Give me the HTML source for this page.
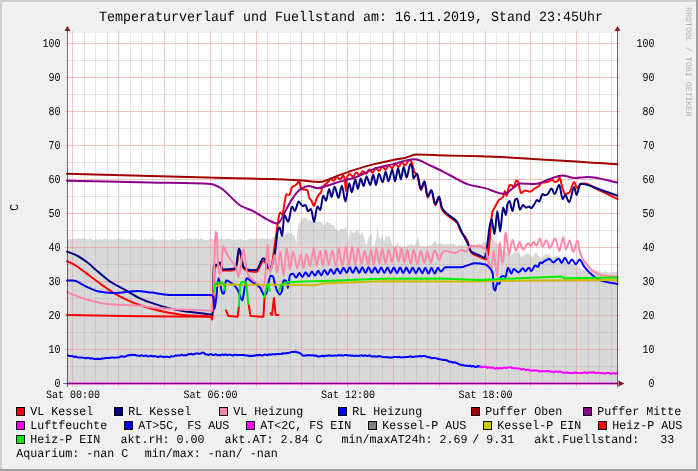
<!DOCTYPE html><html><head><meta charset="utf-8"><style>html,body{margin:0;padding:0;background:#F0F0F0;width:698px;height:471px;overflow:hidden}svg{display:block;will-change:transform}text{font-family:"Liberation Mono",monospace;fill:#000;text-rendering:geometricPrecision}</style></head><body>
<svg width="698" height="471" viewBox="0 0 698 471">
<rect x="0" y="0" width="698" height="471" fill="#F0F0F0"/>
<rect x="0" y="0" width="698" height="2" fill="#CFCFCF"/><rect x="0" y="0" width="2" height="471" fill="#CFCFCF"/>
<rect x="696" y="0" width="2" height="471" fill="#9E9E9E"/><rect x="0" y="469" width="698" height="2" fill="#9E9E9E"/>
<rect x="67" y="33" width="550" height="350" fill="#FFFFFF"/>
<polygon points="67,383 67.0,239.5 68.5,239.0 70.0,238.7 71.5,239.6 73.0,238.5 74.5,239.4 76.0,239.1 77.5,238.5 79.0,239.3 80.5,238.5 82.0,239.2 83.5,238.5 85.0,238.6 86.5,239.2 88.0,239.9 89.5,238.6 91.0,238.8 92.5,239.5 94.0,240.1 95.5,239.4 97.0,239.1 98.5,240.2 100.0,238.5 101.5,239.9 103.0,238.9 104.5,238.7 106.0,238.6 107.5,239.0 109.0,239.9 110.5,238.7 112.0,239.4 113.5,239.6 115.0,239.1 116.5,239.4 118.0,238.5 119.5,238.5 121.0,238.8 122.5,239.6 124.0,239.2 125.5,239.0 127.0,239.5 128.5,239.2 130.0,238.9 131.5,239.8 133.0,239.7 134.5,238.8 136.0,239.4 137.5,239.3 139.0,240.0 140.5,239.7 142.0,238.9 143.5,240.2 145.0,238.6 146.5,239.2 148.0,239.8 149.5,238.7 151.0,239.3 152.5,238.5 154.0,239.6 155.5,239.8 157.0,239.4 158.5,240.0 160.0,239.0 161.5,239.7 163.0,239.5 164.5,239.4 166.0,239.2 167.5,239.9 169.0,240.1 170.5,239.3 172.0,239.6 173.5,238.5 175.0,239.7 176.5,239.6 178.0,240.2 179.5,239.9 181.0,238.9 182.5,239.1 184.0,239.6 185.5,238.4 187.0,239.2 188.5,238.7 190.0,238.6 191.5,238.5 193.0,239.8 194.5,238.6 196.0,238.8 197.5,239.1 199.0,240.0 200.5,238.5 202.0,239.2 203.5,239.4 205.0,240.0 206.5,239.9 208.0,240.0 209.5,238.9 211.0,239.1 212.5,239.0 214.0,240.0 215.5,240.1 217.0,238.7 218.5,238.7 220.0,238.8 221.5,238.8 223.0,239.3 224.5,239.5 226.0,238.9 227.5,238.4 229.0,239.2 230.5,239.1 232.0,239.4 233.5,240.1 235.0,239.6 236.5,239.3 238.0,239.5 239.5,239.6 241.0,238.5 242.5,240.0 244.0,239.8 245.5,240.0 247.0,239.8 248.5,239.1 250.0,239.1 251.5,238.6 253.0,239.5 254.5,238.5 256.0,238.5 257.5,238.8 259.0,238.7 260.5,239.0 262.0,238.5 263.5,238.4 265.0,238.7 266.5,238.6 268.0,239.1 269.5,238.4 271.0,240.0 272.0,236.5 274.0,237.5 276.0,238.0 278.0,236.3 280.0,236.5 281.7,235.0 283.3,234.4 285.0,234.0 286.8,232.7 288.6,232.2 290.0,233.2 291.5,232.8 293.1,235.2 294.6,234.9 296.3,243.5 298.6,223.5 300.1,222.5 301.5,218.9 303.5,218.0 305.5,217.2 306.9,218.9 308.3,220.6 309.8,220.1 311.4,220.7 312.9,222.3 314.3,221.6 315.8,221.1 317.2,222.3 318.7,221.2 320.2,221.7 321.7,222.6 323.2,225.2 324.9,224.6 326.7,221.7 328.2,222.7 329.8,222.7 331.3,224.6 332.7,225.0 334.1,225.2 335.3,229.2 336.7,229.1 338.1,231.5 340.4,229.2 341.9,228.7 343.5,229.3 345.0,227.5 346.5,228.0 347.3,240.1 349.0,236.1 350.7,230.3 352.4,232.3 354.2,233.2 355.9,230.6 357.6,229.2 359.9,236.1 362.2,231.5 364.2,238.3 366.2,245.8 368.1,239.5 370.0,234.9 371.7,233.9 372.3,247.1 374.6,245.4 376.3,237.9 377.4,227.0 379.2,237.9 381.0,239.5 382.0,235.6 384.0,242.0 386.0,235.0 387.8,238.0 389.5,235.0 391.2,242.5 392.9,245.9 394.4,246.6 395.8,245.9 397.5,241.4 399.2,245.9 401.0,245.4 403.2,247.0 404.6,246.5 406.1,246.6 407.6,244.9 409.0,244.8 411.3,244.2 412.7,244.4 414.1,246.0 415.8,243.7 418.1,236.2 419.9,245.9 421.3,246.5 422.7,245.4 424.2,246.7 425.8,246.3 427.3,245.4 428.8,245.8 430.4,245.4 431.9,244.2 433.6,242.8 435.3,240.2 437.0,244.8 439.0,243.5 441.0,243.7 442.8,244.3 444.5,244.8 446.3,244.5 448.2,243.7 450.0,245.0 451.4,243.7 452.9,244.3 454.3,244.2 455.8,245.3 457.2,245.9 458.6,244.5 460.1,245.7 461.5,244.5 462.9,245.8 464.4,245.8 465.8,244.3 467.2,244.0 468.7,244.1 470.1,244.1 471.6,244.2 473.0,245.0 474.4,245.0 475.9,245.3 477.3,244.8 478.7,243.5 480.1,243.6 481.5,243.7 483.0,241.5 484.4,242.2 486.2,242.0 488.0,241.0 489.6,241.0 491.3,238.8 493.6,239.4 495.8,242.0 497.9,244.2 500.0,245.0 502.0,248.2 504.0,250.0 505.7,251.9 507.3,253.2 509.0,256.0 511.0,255.3 513.0,253.0 514.8,252.0 516.6,252.7 518.4,251.4 520.1,255.5 521.9,257.2 523.4,255.8 524.8,254.6 526.2,254.8 527.7,252.5 529.3,254.9 530.8,255.2 532.4,257.8 534.1,254.2 535.9,252.5 537.6,253.9 539.4,257.2 541.0,257.7 542.5,256.9 544.1,255.5 545.6,253.8 547.2,254.7 548.7,253.1 551.0,257.2 552.6,258.0 554.1,256.8 555.7,256.0 557.3,256.3 558.8,257.5 560.4,258.0 562.2,258.9 564.0,260.5 565.8,263.6 567.5,264.8 569.2,264.0 570.9,263.7 572.6,263.6 574.3,265.4 576.0,264.8 577.7,266.6 579.4,266.3 580.8,268.8 582.2,269.7 584.2,269.6 586.3,271.1 587.8,270.5 589.3,270.6 590.9,270.4 592.4,271.3 593.9,270.5 595.5,270.9 597.0,270.1 598.5,271.1 601.2,271.7 602.7,272.8 604.2,271.3 605.7,271.6 607.2,271.9 608.7,272.8 610.1,271.5 611.6,272.8 613.1,271.7 614.6,271.8 616.1,271.8 617.6,271.7 617,383" fill="#D8D8D8"/>
<line x1="72.5" y1="31" x2="72.5" y2="387" stroke="#E89A9A" stroke-opacity="0.58" stroke-width="1"/><line x1="84.5" y1="33" x2="84.5" y2="385" stroke="#9A9A9A" stroke-opacity="0.25" stroke-width="1"/><line x1="95.5" y1="33" x2="95.5" y2="385" stroke="#9A9A9A" stroke-opacity="0.25" stroke-width="1"/><line x1="107.5" y1="33" x2="107.5" y2="385" stroke="#9A9A9A" stroke-opacity="0.25" stroke-width="1"/><line x1="118.5" y1="31" x2="118.5" y2="387" stroke="#E89A9A" stroke-opacity="0.58" stroke-width="1"/><line x1="130.5" y1="33" x2="130.5" y2="385" stroke="#9A9A9A" stroke-opacity="0.25" stroke-width="1"/><line x1="141.5" y1="33" x2="141.5" y2="385" stroke="#9A9A9A" stroke-opacity="0.25" stroke-width="1"/><line x1="152.5" y1="33" x2="152.5" y2="385" stroke="#9A9A9A" stroke-opacity="0.25" stroke-width="1"/><line x1="164.5" y1="31" x2="164.5" y2="387" stroke="#E89A9A" stroke-opacity="0.58" stroke-width="1"/><line x1="175.5" y1="33" x2="175.5" y2="385" stroke="#9A9A9A" stroke-opacity="0.25" stroke-width="1"/><line x1="187.5" y1="33" x2="187.5" y2="385" stroke="#9A9A9A" stroke-opacity="0.25" stroke-width="1"/><line x1="198.5" y1="33" x2="198.5" y2="385" stroke="#9A9A9A" stroke-opacity="0.25" stroke-width="1"/><line x1="210.5" y1="31" x2="210.5" y2="387" stroke="#E89A9A" stroke-opacity="0.58" stroke-width="1"/><line x1="221.5" y1="33" x2="221.5" y2="385" stroke="#9A9A9A" stroke-opacity="0.25" stroke-width="1"/><line x1="233.5" y1="33" x2="233.5" y2="385" stroke="#9A9A9A" stroke-opacity="0.25" stroke-width="1"/><line x1="244.5" y1="33" x2="244.5" y2="385" stroke="#9A9A9A" stroke-opacity="0.25" stroke-width="1"/><line x1="256.5" y1="31" x2="256.5" y2="387" stroke="#E89A9A" stroke-opacity="0.58" stroke-width="1"/><line x1="267.5" y1="33" x2="267.5" y2="385" stroke="#9A9A9A" stroke-opacity="0.25" stroke-width="1"/><line x1="278.5" y1="33" x2="278.5" y2="385" stroke="#9A9A9A" stroke-opacity="0.25" stroke-width="1"/><line x1="290.5" y1="33" x2="290.5" y2="385" stroke="#9A9A9A" stroke-opacity="0.25" stroke-width="1"/><line x1="301.5" y1="31" x2="301.5" y2="387" stroke="#E89A9A" stroke-opacity="0.58" stroke-width="1"/><line x1="313.5" y1="33" x2="313.5" y2="385" stroke="#9A9A9A" stroke-opacity="0.25" stroke-width="1"/><line x1="324.5" y1="33" x2="324.5" y2="385" stroke="#9A9A9A" stroke-opacity="0.25" stroke-width="1"/><line x1="336.5" y1="33" x2="336.5" y2="385" stroke="#9A9A9A" stroke-opacity="0.25" stroke-width="1"/><line x1="347.5" y1="31" x2="347.5" y2="387" stroke="#E89A9A" stroke-opacity="0.58" stroke-width="1"/><line x1="359.5" y1="33" x2="359.5" y2="385" stroke="#9A9A9A" stroke-opacity="0.25" stroke-width="1"/><line x1="370.5" y1="33" x2="370.5" y2="385" stroke="#9A9A9A" stroke-opacity="0.25" stroke-width="1"/><line x1="382.5" y1="33" x2="382.5" y2="385" stroke="#9A9A9A" stroke-opacity="0.25" stroke-width="1"/><line x1="393.5" y1="31" x2="393.5" y2="387" stroke="#E89A9A" stroke-opacity="0.58" stroke-width="1"/><line x1="404.5" y1="33" x2="404.5" y2="385" stroke="#9A9A9A" stroke-opacity="0.25" stroke-width="1"/><line x1="416.5" y1="33" x2="416.5" y2="385" stroke="#9A9A9A" stroke-opacity="0.25" stroke-width="1"/><line x1="427.5" y1="33" x2="427.5" y2="385" stroke="#9A9A9A" stroke-opacity="0.25" stroke-width="1"/><line x1="439.5" y1="31" x2="439.5" y2="387" stroke="#E89A9A" stroke-opacity="0.58" stroke-width="1"/><line x1="450.5" y1="33" x2="450.5" y2="385" stroke="#9A9A9A" stroke-opacity="0.25" stroke-width="1"/><line x1="462.5" y1="33" x2="462.5" y2="385" stroke="#9A9A9A" stroke-opacity="0.25" stroke-width="1"/><line x1="473.5" y1="33" x2="473.5" y2="385" stroke="#9A9A9A" stroke-opacity="0.25" stroke-width="1"/><line x1="485.5" y1="31" x2="485.5" y2="387" stroke="#E89A9A" stroke-opacity="0.58" stroke-width="1"/><line x1="496.5" y1="33" x2="496.5" y2="385" stroke="#9A9A9A" stroke-opacity="0.25" stroke-width="1"/><line x1="508.5" y1="33" x2="508.5" y2="385" stroke="#9A9A9A" stroke-opacity="0.25" stroke-width="1"/><line x1="519.5" y1="33" x2="519.5" y2="385" stroke="#9A9A9A" stroke-opacity="0.25" stroke-width="1"/><line x1="530.5" y1="31" x2="530.5" y2="387" stroke="#E89A9A" stroke-opacity="0.58" stroke-width="1"/><line x1="542.5" y1="33" x2="542.5" y2="385" stroke="#9A9A9A" stroke-opacity="0.25" stroke-width="1"/><line x1="553.5" y1="33" x2="553.5" y2="385" stroke="#9A9A9A" stroke-opacity="0.25" stroke-width="1"/><line x1="565.5" y1="33" x2="565.5" y2="385" stroke="#9A9A9A" stroke-opacity="0.25" stroke-width="1"/><line x1="576.5" y1="31" x2="576.5" y2="387" stroke="#E89A9A" stroke-opacity="0.58" stroke-width="1"/><line x1="588.5" y1="33" x2="588.5" y2="385" stroke="#9A9A9A" stroke-opacity="0.25" stroke-width="1"/><line x1="599.5" y1="33" x2="599.5" y2="385" stroke="#9A9A9A" stroke-opacity="0.25" stroke-width="1"/><line x1="611.5" y1="33" x2="611.5" y2="385" stroke="#9A9A9A" stroke-opacity="0.25" stroke-width="1"/><line x1="65" y1="383.5" x2="620" y2="383.5" stroke="#E89A9A" stroke-opacity="0.58" stroke-width="1"/><line x1="65.5" y1="366.5" x2="619" y2="366.5" stroke="#9A9A9A" stroke-opacity="0.25" stroke-width="1"/><line x1="65" y1="349.5" x2="620" y2="349.5" stroke="#E89A9A" stroke-opacity="0.58" stroke-width="1"/><line x1="65.5" y1="332.5" x2="619" y2="332.5" stroke="#9A9A9A" stroke-opacity="0.25" stroke-width="1"/><line x1="65" y1="315.5" x2="620" y2="315.5" stroke="#E89A9A" stroke-opacity="0.58" stroke-width="1"/><line x1="65.5" y1="298.5" x2="619" y2="298.5" stroke="#9A9A9A" stroke-opacity="0.25" stroke-width="1"/><line x1="65" y1="281.5" x2="620" y2="281.5" stroke="#E89A9A" stroke-opacity="0.58" stroke-width="1"/><line x1="65.5" y1="264.5" x2="619" y2="264.5" stroke="#9A9A9A" stroke-opacity="0.25" stroke-width="1"/><line x1="65" y1="247.5" x2="620" y2="247.5" stroke="#E89A9A" stroke-opacity="0.58" stroke-width="1"/><line x1="65.5" y1="230.5" x2="619" y2="230.5" stroke="#9A9A9A" stroke-opacity="0.25" stroke-width="1"/><line x1="65" y1="213.5" x2="620" y2="213.5" stroke="#E89A9A" stroke-opacity="0.58" stroke-width="1"/><line x1="65.5" y1="196.5" x2="619" y2="196.5" stroke="#9A9A9A" stroke-opacity="0.25" stroke-width="1"/><line x1="65" y1="179.5" x2="620" y2="179.5" stroke="#E89A9A" stroke-opacity="0.58" stroke-width="1"/><line x1="65.5" y1="162.5" x2="619" y2="162.5" stroke="#9A9A9A" stroke-opacity="0.25" stroke-width="1"/><line x1="65" y1="145.5" x2="620" y2="145.5" stroke="#E89A9A" stroke-opacity="0.58" stroke-width="1"/><line x1="65.5" y1="128.5" x2="619" y2="128.5" stroke="#9A9A9A" stroke-opacity="0.25" stroke-width="1"/><line x1="65" y1="111.5" x2="620" y2="111.5" stroke="#E89A9A" stroke-opacity="0.58" stroke-width="1"/><line x1="65.5" y1="94.5" x2="619" y2="94.5" stroke="#9A9A9A" stroke-opacity="0.25" stroke-width="1"/><line x1="65" y1="77.5" x2="620" y2="77.5" stroke="#E89A9A" stroke-opacity="0.58" stroke-width="1"/><line x1="65.5" y1="60.5" x2="619" y2="60.5" stroke="#9A9A9A" stroke-opacity="0.25" stroke-width="1"/><line x1="65" y1="43.5" x2="620" y2="43.5" stroke="#E89A9A" stroke-opacity="0.58" stroke-width="1"/>
<path d="M67.10,261.30 C69.03,262.17 70.97,262.87 72.90,263.90 C77.20,266.18 81.50,269.80 85.80,272.90 C90.10,276.00 94.40,279.39 98.70,282.50 C103.00,285.61 107.30,288.96 111.60,291.60 C116.33,294.51 121.07,297.07 125.80,299.30 C130.53,301.53 135.27,303.55 140.00,305.20 C143.83,306.54 147.67,307.68 151.50,308.70 C157.23,310.23 162.97,311.65 168.70,312.70 C174.40,313.75 180.10,314.90 185.80,315.30 C194.23,315.89 202.67,315.45 211.10,316.40 C211.63,316.46 212.17,317.80 212.70,317.80 C213.40,317.80 214.10,268.74 214.80,267.50 C215.53,266.21 216.27,266.00 217.00,265.50 C218.07,264.77 219.13,263.80 220.20,263.80 C220.97,263.80 221.73,270.60 222.50,270.60 C225.60,270.60 228.70,270.58 231.80,270.50 C232.60,270.48 233.40,270.20 234.20,269.80 C234.97,269.42 235.73,267.98 236.50,266.00 C237.30,263.93 238.10,251.50 238.90,251.50 C239.43,251.50 239.97,252.80 240.50,254.00 C241.50,256.25 242.50,267.58 243.50,268.50 C245.47,270.31 247.43,270.91 249.40,271.20 C251.73,271.54 254.07,271.80 256.40,271.80 C258.73,271.80 261.07,261.00 263.40,261.00 C263.93,261.00 264.47,261.51 265.00,262.00 C266.03,262.94 267.07,268.50 268.10,268.50 C269.27,268.50 270.43,268.26 271.60,267.50 C271.97,267.26 272.33,262.55 272.70,260.00 C273.93,251.42 275.17,241.45 276.40,233.50 C277.60,225.77 278.80,212.40 280.00,212.40 C280.77,212.40 281.53,214.70 282.30,214.70 C283.10,214.70 283.90,205.77 284.70,201.90 C285.27,199.16 285.83,194.30 286.40,194.30 C287.37,194.30 288.33,194.90 289.30,194.90 C290.30,194.90 291.30,187.42 292.30,186.70 C293.27,186.01 294.23,186.08 295.20,185.50 C295.97,185.04 296.73,184.08 297.50,183.20 C298.10,182.51 298.70,180.80 299.30,180.80 C299.87,180.80 300.43,188.79 301.00,189.00 C302.17,189.43 303.33,189.38 304.50,189.60 C305.50,189.78 306.50,189.78 307.50,190.20 C308.07,190.44 308.63,196.65 309.20,197.80 C309.97,199.35 310.73,199.47 311.50,200.70 C312.30,201.98 313.10,206.00 313.90,206.00 C314.67,206.00 315.43,201.25 316.20,199.50 C317.00,197.67 317.80,195.98 318.60,194.90 C319.37,193.87 320.13,193.76 320.90,192.50 C321.47,191.57 322.03,187.48 322.60,186.70 C323.60,185.33 324.60,185.20 325.60,184.30 C326.73,183.28 327.87,182.34 329.00,180.80 C329.43,180.21 329.87,178.50 330.30,178.50 C331.38,178.50 332.47,180.81 333.55,180.81 C334.63,180.81 335.72,177.02 336.80,177.02 C337.88,177.02 338.97,179.42 340.05,179.42 C341.13,179.42 342.22,175.53 343.30,175.53 C343.83,175.53 344.37,177.31 344.90,179.80 C345.20,181.20 345.50,191.00 345.80,191.00 C346.23,191.00 346.67,178.21 347.10,177.20 C348.00,175.11 348.90,174.05 349.80,174.05 C350.88,174.05 351.97,176.65 353.05,176.65 C354.13,176.65 355.22,172.56 356.30,172.56 C357.38,172.56 358.47,175.26 359.55,175.26 C360.63,175.26 361.72,171.08 362.80,171.08 C363.88,171.08 364.97,173.87 366.05,173.87 C367.13,173.87 368.22,169.59 369.30,169.59 C370.38,169.59 371.47,172.49 372.55,172.49 C373.63,172.49 374.72,168.11 375.80,168.11 C376.88,168.11 377.97,171.10 379.05,171.10 C380.13,171.10 381.22,166.63 382.30,166.63 C383.38,166.63 384.47,169.72 385.55,169.72 C386.63,169.72 387.72,165.14 388.80,165.14 C389.88,165.14 390.97,168.33 392.05,168.33 C393.13,168.33 394.22,163.66 395.30,163.66 C396.38,163.66 397.47,166.94 398.55,166.94 C399.63,166.94 400.72,162.17 401.80,162.17 C402.88,162.17 403.97,165.56 405.05,165.56 C406.13,165.56 407.22,161.03 408.30,160.69 C409.00,160.47 409.70,160.30 410.40,160.30 C410.93,160.30 411.47,161.76 412.00,163.00 C412.73,164.70 413.47,170.59 414.20,171.80 C415.17,173.39 416.13,173.19 417.10,174.70 C418.37,176.68 419.63,190.00 420.90,190.00 C422.10,190.00 423.30,182.30 424.50,182.30 C425.53,182.30 426.57,197.60 427.60,197.60 C428.87,197.60 430.13,190.90 431.40,190.90 C432.70,190.90 434.00,205.20 435.30,205.20 C436.57,205.20 437.83,197.60 439.10,197.60 C440.07,197.60 441.03,207.75 442.00,209.50 C443.87,212.88 445.73,213.79 447.60,215.50 C450.80,218.43 454.00,219.02 457.20,223.00 C458.47,224.58 459.73,229.27 461.00,231.50 C463.13,235.26 465.27,236.02 467.40,240.50 C468.33,242.46 469.27,247.95 470.20,250.00 C470.90,251.54 471.60,252.95 472.30,253.50 C474.53,255.25 476.77,255.58 479.00,256.50 C481.37,257.47 483.73,259.20 486.10,259.20 C486.67,259.20 487.23,257.20 487.80,255.30 C489.40,249.94 491.00,215.76 492.60,211.30 C493.40,209.07 494.20,208.40 495.00,207.00 C496.40,204.54 497.80,201.23 499.20,199.80 C500.47,198.50 501.73,198.59 503.00,197.00 C503.67,196.16 504.33,191.10 505.00,191.10 C505.50,191.10 506.00,196.10 506.50,196.10 C507.50,196.10 508.50,185.00 509.50,185.00 C510.33,185.00 511.17,185.19 512.00,185.50 C512.50,185.69 513.00,187.60 513.50,187.60 C514.50,187.60 515.50,180.50 516.50,180.50 C517.00,180.50 517.50,180.97 518.00,181.50 C519.00,182.55 520.00,193.10 521.00,193.10 C522.37,193.10 523.73,190.60 525.10,190.60 C526.77,190.60 528.43,191.60 530.10,191.60 C531.77,191.60 533.43,189.09 535.10,188.10 C536.43,187.30 537.77,187.10 539.10,186.00 C539.77,185.45 540.43,183.23 541.10,183.00 C543.10,182.31 545.10,182.48 547.10,182.00 C548.77,181.60 550.43,180.00 552.10,180.00 C553.10,180.00 554.10,182.00 555.10,182.00 C555.90,182.00 556.70,181.53 557.50,181.00 C558.23,180.51 558.97,177.50 559.70,177.50 C560.53,177.50 561.37,184.66 562.20,187.10 C563.20,190.02 564.20,194.10 565.20,194.10 C566.53,194.10 567.87,193.43 569.20,192.60 C570.87,191.56 572.53,182.00 574.20,182.00 C575.13,182.00 576.07,188.00 577.00,188.00 C578.50,188.00 580.00,184.10 581.50,183.80 C582.33,183.63 583.17,183.50 584.00,183.50 C589.33,183.50 594.67,188.05 600.00,190.50 C605.80,193.16 611.60,196.10 617.40,198.90" fill="none" stroke="#FF0000" stroke-width="2" stroke-linejoin="round" stroke-linecap="round" />
<path d="M67.10,251.60 C69.90,252.67 72.70,253.48 75.50,254.80 C78.93,256.42 82.37,258.83 85.80,261.30 C90.10,264.39 94.40,268.67 98.70,272.20 C103.00,275.73 107.30,279.70 111.60,282.50 C115.90,285.30 120.20,287.21 124.50,289.60 C129.67,292.47 134.83,295.91 140.00,298.30 C143.83,300.08 147.67,301.57 151.50,302.90 C157.23,304.89 162.97,306.72 168.70,308.10 C174.40,309.47 180.10,310.62 185.80,311.50 C194.23,312.80 202.67,312.96 211.10,314.60 C211.57,314.69 212.03,315.00 212.50,315.00 C212.93,315.00 213.37,266.97 213.80,266.00 C214.17,265.18 214.53,264.70 214.90,264.70 C215.60,264.70 216.30,265.00 217.00,265.00 C218.07,265.00 219.13,262.40 220.20,262.40 C220.97,262.40 221.73,269.40 222.50,269.40 C226.40,269.40 230.30,269.29 234.20,268.80 C234.97,268.70 235.73,266.86 236.50,264.70 C237.30,262.45 238.10,248.40 238.90,248.40 C239.43,248.40 239.97,250.41 240.50,252.00 C241.50,254.99 242.50,265.99 243.50,267.00 C245.47,268.99 247.43,270.00 249.40,270.00 C251.73,270.00 254.07,270.00 256.40,270.00 C258.73,270.00 261.07,258.30 263.40,258.30 C263.93,258.30 264.47,258.91 265.00,259.50 C266.03,260.64 267.07,267.60 268.10,267.60 C269.27,267.60 270.43,266.91 271.60,265.90 C272.77,264.89 273.93,258.09 275.10,251.90 C276.07,246.77 277.03,231.63 278.00,229.70 C278.60,228.50 279.20,227.50 279.80,227.50 C280.57,227.50 281.33,236.10 282.10,236.10 C282.83,236.10 283.57,215.00 284.30,215.00 C285.60,215.00 286.90,221.70 288.20,221.70 C289.47,221.70 290.73,206.40 292.00,206.40 C292.93,206.40 293.87,211.00 294.80,211.00 C296.10,211.00 297.40,201.60 298.70,201.60 C299.97,201.60 301.23,206.00 302.50,206.00 C303.47,206.00 304.43,205.00 305.40,205.00 C306.33,205.00 307.27,211.20 308.20,211.20 C309.13,211.20 310.07,209.00 311.00,209.00 C312.00,209.00 313.00,221.70 314.00,221.70 C315.13,221.70 316.27,206.50 317.40,206.50 C318.37,206.50 319.33,210.00 320.30,210.00 C321.27,210.00 322.23,195.40 323.20,195.40 C324.17,195.40 325.13,200.70 326.10,200.70 C327.10,200.70 328.10,189.00 329.10,189.00 C329.93,189.00 330.77,197.00 331.60,197.00 C332.60,197.00 333.60,186.70 334.60,186.70 C335.90,186.70 337.20,197.80 338.50,197.80 C339.63,197.80 340.77,185.80 341.90,185.80 C343.07,185.80 344.23,201.50 345.40,201.50 C346.67,201.50 347.93,183.20 349.20,183.20 C350.07,183.20 350.93,192.20 351.80,192.20 C352.97,192.20 354.13,179.30 355.30,179.30 C356.17,179.30 357.03,189.00 357.90,189.00 C358.83,189.00 359.77,178.40 360.70,178.40 C361.67,178.40 362.63,186.10 363.60,186.10 C364.57,186.10 365.53,176.50 366.50,176.50 C367.77,176.50 369.03,185.10 370.30,185.10 C371.27,185.10 372.23,174.60 373.20,174.60 C374.13,174.60 375.07,185.10 376.00,185.10 C376.97,185.10 377.93,173.70 378.90,173.70 C380.17,173.70 381.43,182.30 382.70,182.30 C383.67,182.30 384.63,171.80 385.60,171.80 C386.53,171.80 387.47,181.30 388.40,181.30 C389.70,181.30 391.00,169.80 392.30,169.80 C393.23,169.80 394.17,181.30 395.10,181.30 C396.07,181.30 397.03,167.90 398.00,167.90 C398.97,167.90 399.93,179.40 400.90,179.40 C401.83,179.40 402.77,167.00 403.70,167.00 C404.67,167.00 405.63,177.50 406.60,177.50 C407.87,177.50 409.13,164.10 410.40,164.10 C411.03,164.10 411.67,165.67 412.30,168.00 C412.63,169.23 412.97,178.40 413.30,178.40 C414.57,178.40 415.83,173.70 417.10,173.70 C418.37,173.70 419.63,189.00 420.90,189.00 C422.10,189.00 423.30,181.30 424.50,181.30 C425.53,181.30 426.57,196.60 427.60,196.60 C428.87,196.60 430.13,189.90 431.40,189.90 C432.70,189.90 434.00,204.20 435.30,204.20 C436.57,204.20 437.83,196.60 439.10,196.60 C440.07,196.60 441.03,206.22 442.00,208.00 C443.87,211.43 445.73,212.45 447.60,214.20 C450.80,217.20 454.00,217.77 457.20,221.80 C458.47,223.40 459.73,227.72 461.00,230.40 C461.77,232.02 462.53,233.47 463.30,235.00 C465.13,238.67 466.97,241.42 468.80,246.00 C469.27,247.17 469.73,249.48 470.20,250.20 C470.90,251.29 471.60,251.85 472.30,252.30 C474.37,253.64 476.43,254.08 478.50,255.00 C480.57,255.92 482.63,257.80 484.70,257.80 C485.17,257.80 485.63,254.00 486.10,251.60 C486.77,248.18 487.43,244.43 488.10,239.10 C488.37,236.97 488.63,232.77 488.90,231.00 C489.80,225.02 490.70,219.00 491.60,219.00 C492.57,219.00 493.53,234.20 494.50,234.20 C495.43,234.20 496.37,211.30 497.30,211.30 C498.27,211.30 499.23,231.40 500.20,231.40 C501.17,231.40 502.13,207.50 503.10,207.50 C504.07,207.50 505.03,215.00 506.00,215.00 C506.50,215.00 507.00,205.38 507.50,204.10 C508.17,202.39 508.83,201.10 509.50,201.10 C510.50,201.10 511.50,211.10 512.50,211.10 C513.33,211.10 514.17,201.14 515.00,200.10 C515.67,199.27 516.33,198.60 517.00,198.60 C518.00,198.60 519.00,209.60 520.00,209.60 C521.00,209.60 522.00,205.10 523.00,205.10 C524.03,205.10 525.07,207.60 526.10,207.60 C527.10,207.60 528.10,206.60 529.10,206.60 C529.77,206.60 530.43,208.10 531.10,208.10 C532.10,208.10 533.10,205.91 534.10,204.60 C535.10,203.29 536.10,200.10 537.10,200.10 C537.77,200.10 538.43,201.60 539.10,201.60 C540.27,201.60 541.43,194.10 542.60,194.10 C543.27,194.10 543.93,195.10 544.60,195.10 C545.43,195.10 546.27,194.87 547.10,194.60 C548.60,194.11 550.10,188.60 551.60,188.60 C552.60,188.60 553.60,194.10 554.60,194.10 C556.13,194.10 557.67,185.00 559.20,185.00 C560.37,185.00 561.53,199.10 562.70,199.10 C563.53,199.10 564.37,195.10 565.20,195.10 C566.53,195.10 567.87,202.10 569.20,202.10 C570.87,202.10 572.53,187.10 574.20,187.10 C574.97,187.10 575.73,195.10 576.50,195.10 C577.77,195.10 579.03,183.80 580.30,183.80 C581.20,183.80 582.10,183.91 583.00,184.00 C588.67,184.59 594.33,187.59 600.00,189.50 C605.80,191.45 611.60,193.57 617.40,195.60" fill="none" stroke="#000080" stroke-width="2" stroke-linejoin="round" stroke-linecap="round" />
<path d="M67.10,292.20 C73.33,294.57 79.57,297.61 85.80,299.30 C93.87,301.49 101.93,303.64 110.00,304.30 C120.00,305.12 130.00,305.04 140.00,305.80 C145.73,306.24 151.47,307.60 157.20,308.10 C162.93,308.60 168.67,308.91 174.40,309.20 C186.63,309.83 198.87,309.64 211.10,310.70 C211.57,310.74 212.03,311.00 212.50,311.00 C213.10,311.00 213.70,278.05 214.30,262.40 C214.70,251.97 215.10,232.00 215.50,232.00 C215.90,232.00 216.30,232.42 216.70,233.20 C217.07,233.91 217.43,254.19 217.80,260.00 C218.20,266.34 218.60,274.00 219.00,274.00 C219.67,274.00 220.33,273.23 221.00,272.00 C221.70,270.71 222.40,246.00 223.10,246.00 C223.73,246.00 224.37,248.75 225.00,250.00 C226.67,253.29 228.33,256.44 230.00,259.10 C232.13,262.50 234.27,262.99 236.40,268.10 C237.03,269.62 237.67,277.00 238.30,277.00 C239.03,277.00 239.77,271.61 240.50,268.00 C241.47,263.24 242.43,249.60 243.40,249.60 C244.03,249.60 244.67,255.23 245.30,259.00 C245.93,262.77 246.57,271.79 247.20,273.20 C249.97,279.35 252.73,279.51 255.50,282.10 C258.07,284.50 260.63,288.50 263.20,288.50 C263.83,288.50 264.47,283.10 265.10,278.30 C265.93,271.99 266.77,243.90 267.60,243.90 C268.40,243.90 269.20,272.50 270.00,272.50 C270.80,272.50 271.60,266.98 272.40,264.00 C273.17,261.15 273.93,255.00 274.70,255.00 C275.50,255.00 276.30,272.50 277.10,272.50 C278.17,272.50 279.23,251.80 280.30,251.80 C281.37,251.80 282.43,275.70 283.50,275.70 C284.57,275.70 285.63,247.90 286.70,247.90 C287.77,247.90 288.83,269.40 289.90,269.40 C290.93,269.40 291.97,251.80 293.00,251.80 C294.40,251.80 295.80,268.00 297.20,268.00 C298.40,268.00 299.60,255.10 300.80,255.10 C301.73,255.10 302.67,268.00 303.60,268.00 C304.57,268.00 305.53,253.70 306.50,253.70 C307.70,253.70 308.90,266.50 310.10,266.50 C311.30,266.50 312.50,247.90 313.70,247.90 C314.63,247.90 315.57,265.80 316.50,265.80 C317.70,265.80 318.90,250.80 320.10,250.80 C321.07,250.80 322.03,265.80 323.00,265.80 C323.93,265.80 324.87,250.10 325.80,250.10 C326.77,250.10 327.73,265.10 328.70,265.10 C329.90,265.10 331.10,250.80 332.30,250.80 C333.50,250.80 334.70,266.50 335.90,266.50 C336.83,266.50 337.77,248.60 338.70,248.60 C339.90,248.60 341.10,265.80 342.30,265.80 C343.50,265.80 344.70,246.50 345.90,246.50 C346.87,246.50 347.83,265.10 348.80,265.10 C349.97,265.10 351.13,246.50 352.30,246.50 C353.27,246.50 354.23,265.10 355.20,265.10 C356.17,265.10 357.13,248.60 358.10,248.60 C359.30,248.60 360.50,264.40 361.70,264.40 C362.63,264.40 363.57,250.80 364.50,250.80 C365.70,250.80 366.90,265.10 368.10,265.10 C369.07,265.10 370.03,250.10 371.00,250.10 C371.93,250.10 372.87,265.10 373.80,265.10 C374.67,265.10 375.53,248.60 376.40,248.60 C377.37,248.60 378.33,263.70 379.30,263.70 C380.27,263.70 381.23,248.60 382.20,248.60 C383.37,248.60 384.53,263.70 385.70,263.70 C386.67,263.70 387.63,249.40 388.60,249.40 C389.80,249.40 391.00,262.20 392.20,262.20 C393.17,262.20 394.13,247.20 395.10,247.20 C396.27,247.20 397.43,261.50 398.60,261.50 C399.57,261.50 400.53,248.60 401.50,248.60 C402.47,248.60 403.43,263.00 404.40,263.00 C405.33,263.00 406.27,249.40 407.20,249.40 C408.40,249.40 409.60,263.70 410.80,263.70 C411.77,263.70 412.73,249.40 413.70,249.40 C414.90,249.40 416.10,264.40 417.30,264.40 C418.47,264.40 419.63,250.80 420.80,250.80 C422.00,250.80 423.20,263.00 424.40,263.00 C425.37,263.00 426.33,251.50 427.30,251.50 C428.50,251.50 429.70,263.00 430.90,263.00 C432.10,263.00 433.30,250.10 434.50,250.10 C436.17,250.10 437.83,260.10 439.50,260.10 C440.43,260.10 441.37,252.97 442.30,252.20 C443.27,251.40 444.23,250.80 445.20,250.80 C448.53,250.80 451.87,252.90 455.20,252.90 C457.13,252.90 459.07,250.10 461.00,250.10 C462.90,250.10 464.80,251.50 466.70,251.50 C467.67,251.50 468.63,246.76 469.60,246.50 C471.40,246.02 473.20,245.80 475.00,245.80 C478.47,245.80 481.93,246.43 485.40,248.80 C485.90,249.14 486.40,252.86 486.90,254.70 C488.37,260.10 489.83,269.60 491.30,269.60 C492.07,269.60 492.83,250.30 493.60,250.30 C494.07,250.30 494.53,257.38 495.00,260.70 C495.77,266.16 496.53,276.30 497.30,276.30 C498.10,276.30 498.90,242.00 499.70,242.00 C500.47,242.00 501.23,261.24 502.00,261.90 C502.40,262.25 502.80,262.50 503.20,262.50 C503.97,262.50 504.73,232.10 505.50,232.10 C506.07,232.10 506.63,238.36 507.20,242.00 C507.80,245.85 508.40,254.90 509.00,254.90 C510.17,254.90 511.33,239.70 512.50,239.70 C513.67,239.70 514.83,250.80 516.00,250.80 C517.17,250.80 518.33,242.00 519.50,242.00 C520.67,242.00 521.83,249.60 523.00,249.60 C524.77,249.60 526.53,243.20 528.30,243.20 C529.07,243.20 529.83,246.10 530.60,246.10 C531.60,246.10 532.60,242.00 533.60,242.00 C534.57,242.00 535.53,245.50 536.50,245.50 C537.67,245.50 538.83,238.50 540.00,238.50 C540.77,238.50 541.53,246.70 542.30,246.70 C543.67,246.70 545.03,240.30 546.40,240.30 C547.57,240.30 548.73,247.90 549.90,247.90 C551.67,247.90 553.43,238.50 555.20,238.50 C556.57,238.50 557.93,250.80 559.30,250.80 C560.63,250.80 561.97,237.30 563.30,237.30 C564.13,237.30 564.97,249.30 565.80,249.30 C567.17,249.30 568.53,240.40 569.90,240.40 C571.03,240.40 572.17,252.00 573.30,252.00 C574.67,252.00 576.03,240.40 577.40,240.40 C578.07,240.40 578.73,247.56 579.40,250.00 C580.33,253.42 581.27,256.35 582.20,258.10 C583.57,260.66 584.93,261.93 586.30,263.60 C588.57,266.37 590.83,269.51 593.10,271.10 C595.80,272.99 598.50,274.79 601.20,275.20 C606.60,276.01 612.00,276.07 617.40,276.50" fill="none" stroke="#FF88AA" stroke-width="2" stroke-linejoin="round" stroke-linecap="round" />
<path d="M67.10,280.60 C69.03,280.60 70.97,280.60 72.90,280.60 C77.20,280.60 81.50,284.57 85.80,286.40 C90.10,288.23 94.40,290.91 98.70,291.60 C103.00,292.29 107.30,292.90 111.60,292.90 C115.90,292.90 120.20,292.50 124.50,292.20 C128.80,291.90 133.10,290.90 137.40,290.90 C142.10,290.90 146.80,292.01 151.50,292.60 C157.23,293.33 162.97,294.90 168.70,294.90 C174.40,294.90 180.10,294.90 185.80,294.90 C194.23,294.90 202.67,294.90 211.10,294.90 C211.87,294.90 212.63,295.57 213.40,297.20 C213.70,297.84 214.00,309.10 214.30,309.10 C214.90,309.10 215.50,303.28 216.10,299.20 C216.87,293.99 217.63,278.20 218.40,278.20 C219.00,278.20 219.60,281.85 220.20,284.00 C220.97,286.75 221.73,293.40 222.50,293.40 C223.00,293.40 223.50,293.40 224.00,293.40 C224.67,293.40 225.33,280.50 226.00,280.50 C228.73,280.50 231.47,282.88 234.20,285.20 C235.37,286.19 236.53,287.97 237.70,289.90 C239.27,292.50 240.83,300.40 242.40,300.40 C242.77,300.40 243.13,296.90 243.50,295.00 C244.50,289.82 245.50,278.20 246.50,278.20 C248.23,278.20 249.97,280.51 251.70,281.70 C254.43,283.58 257.17,284.64 259.90,287.50 C261.47,289.14 263.03,295.70 264.60,295.70 C265.23,295.70 265.87,294.29 266.50,293.00 C267.80,290.36 269.10,275.80 270.40,275.80 C271.27,275.80 272.13,276.05 273.00,276.50 C273.70,276.87 274.40,283.21 275.10,285.20 C276.63,289.55 278.17,294.50 279.70,294.50 C280.47,294.50 281.23,292.98 282.00,291.00 C282.53,289.62 283.07,280.20 283.60,280.20 C284.53,280.20 285.47,280.41 286.40,280.90 C286.90,281.16 287.40,288.00 287.90,288.00 C288.60,288.00 289.30,275.55 290.00,275.00 C291.00,274.21 292.00,273.80 293.00,273.80 C294.05,273.80 295.10,277.51 296.15,277.51 C297.20,277.51 298.25,273.03 299.30,273.03 C300.35,273.03 301.40,276.93 302.45,276.93 C303.50,276.93 304.55,272.26 305.60,272.26 C306.65,272.26 307.70,276.34 308.75,276.34 C309.80,276.34 310.85,271.49 311.90,271.49 C312.95,271.49 314.00,275.76 315.05,275.76 C316.10,275.76 317.15,270.72 318.20,270.72 C319.25,270.72 320.30,275.18 321.35,275.18 C322.40,275.18 323.45,269.95 324.50,269.95 C325.55,269.95 326.60,274.59 327.65,274.59 C328.70,274.59 329.75,269.18 330.80,269.18 C331.85,269.18 332.90,274.01 333.95,274.01 C335.00,274.01 336.05,268.41 337.10,268.41 C338.15,268.41 339.20,273.43 340.25,273.43 C341.30,273.43 342.35,267.64 343.40,267.64 C344.45,267.64 345.50,272.84 346.55,272.84 C347.60,272.84 348.65,267.22 349.70,267.22 C350.75,267.22 351.80,272.84 352.85,272.84 C353.90,272.84 354.95,267.26 356.00,267.26 C357.05,267.26 358.10,272.89 359.15,272.89 C360.20,272.89 361.25,267.30 362.30,267.30 C363.35,267.30 364.40,272.94 365.45,272.94 C366.50,272.94 367.55,267.34 368.60,267.34 C369.65,267.34 370.70,272.99 371.75,272.99 C372.80,272.99 373.85,267.38 374.90,267.38 C375.95,267.38 377.00,273.03 378.05,273.03 C379.10,273.03 380.15,267.42 381.20,267.42 C382.25,267.42 383.30,273.08 384.35,273.08 C385.40,273.08 386.45,267.46 387.50,267.46 C388.55,267.46 389.60,273.13 390.65,273.13 C391.70,273.13 392.75,267.50 393.80,267.50 C394.85,267.50 395.90,273.18 396.95,273.18 C398.00,273.18 399.05,267.54 400.10,267.54 C401.15,267.54 402.20,273.22 403.25,273.22 C404.30,273.22 405.35,267.58 406.40,267.58 C407.45,267.58 408.50,273.27 409.55,273.27 C410.60,273.27 411.65,267.62 412.70,267.62 C413.75,267.62 414.80,273.32 415.85,273.32 C416.90,273.32 417.95,267.66 419.00,267.66 C420.05,267.66 421.10,273.37 422.15,273.37 C423.20,273.37 424.25,267.71 425.30,267.71 C426.35,267.71 427.40,273.41 428.45,273.41 C429.50,273.41 430.55,267.75 431.60,267.75 C432.65,267.75 433.70,273.46 434.75,273.46 C435.80,273.46 436.85,267.79 437.90,267.79 C438.90,267.79 439.90,271.60 440.90,271.60 C442.33,271.60 443.77,267.30 445.20,267.30 C450.47,267.30 455.73,267.30 461.00,267.30 C463.37,267.30 465.73,265.77 468.10,265.10 C470.40,264.45 472.70,263.30 475.00,263.30 C478.47,263.30 481.93,263.68 485.40,264.40 C486.90,264.71 488.40,266.29 489.90,268.10 C490.87,269.27 491.83,269.88 492.80,274.00 C493.07,275.14 493.33,286.36 493.60,287.40 C494.10,289.34 494.60,290.40 495.10,290.40 C495.83,290.40 496.57,283.00 497.30,283.00 C498.03,283.00 498.77,284.00 499.50,284.00 C499.93,284.00 500.37,277.53 500.80,277.10 C501.60,276.30 502.40,275.90 503.20,275.90 C503.97,275.90 504.73,277.00 505.50,277.00 C506.30,277.00 507.10,267.70 507.90,267.70 C509.07,267.70 510.23,273.60 511.40,273.60 C512.17,273.60 512.93,268.90 513.70,268.90 C515.27,268.90 516.83,272.40 518.40,272.40 C519.93,272.40 521.47,268.30 523.00,268.30 C523.80,268.30 524.60,271.20 525.40,271.20 C526.57,271.20 527.73,267.70 528.90,267.70 C529.67,267.70 530.43,271.20 531.20,271.20 C532.57,271.20 533.93,265.40 535.30,265.40 C536.27,265.40 537.23,267.10 538.20,267.10 C538.80,267.10 539.40,262.50 540.00,262.50 C540.67,262.50 541.33,263.00 542.00,263.00 C542.70,263.00 543.40,261.72 544.10,261.30 C545.83,260.27 547.57,259.00 549.30,259.00 C550.67,259.00 552.03,262.50 553.40,262.50 C555.17,262.50 556.93,258.40 558.70,258.40 C559.67,258.40 560.63,263.00 561.60,263.00 C562.70,263.00 563.80,257.80 564.90,257.80 C566.13,257.80 567.37,263.60 568.60,263.60 C569.70,263.60 570.80,259.50 571.90,259.50 C573.27,259.50 574.63,264.30 576.00,264.30 C577.13,264.30 578.27,259.50 579.40,259.50 C581.23,259.50 583.07,265.49 584.90,267.70 C587.63,270.99 590.37,273.78 593.10,275.80 C595.80,277.80 598.50,279.72 601.20,280.60 C606.60,282.37 612.00,282.87 617.40,284.00" fill="none" stroke="#0000FF" stroke-width="2" stroke-linejoin="round" stroke-linecap="round" />
<path d="M67.00,173.80 C123.00,175.30 179.00,177.06 235.00,178.30 C246.67,178.56 258.33,178.68 270.00,179.00 C279.57,179.26 289.13,179.67 298.70,180.20 C305.80,180.60 312.90,181.90 320.00,181.90 C325.73,181.90 331.47,177.90 337.20,175.90 C342.93,173.90 348.67,171.73 354.40,169.90 C360.97,167.80 367.53,165.75 374.10,164.10 C380.47,162.50 386.83,161.09 393.20,159.90 C397.03,159.19 400.87,158.81 404.70,158.00 C408.53,157.19 412.37,154.60 416.20,154.60 C425.80,154.60 435.40,155.25 445.00,155.50 C456.67,155.81 468.33,155.95 480.00,156.30 C525.80,157.68 571.60,161.63 617.40,164.30" fill="none" stroke="#A00000" stroke-width="2" stroke-linejoin="round" stroke-linecap="round" />
<path d="M67.00,180.80 C94.67,181.37 122.33,181.88 150.00,182.50 C170.43,182.96 190.87,182.75 211.30,184.00 C212.53,184.08 213.77,184.73 215.00,185.20 C216.90,185.93 218.80,186.86 220.70,188.00 C227.53,192.09 234.37,202.20 241.20,206.00 C244.87,208.04 248.53,208.92 252.20,210.70 C257.47,213.26 262.73,217.37 268.00,219.80 C271.20,221.28 274.40,223.60 277.60,223.60 C280.17,223.60 282.73,215.52 285.30,211.20 C287.83,206.94 290.37,201.27 292.90,197.80 C295.47,194.29 298.03,190.80 300.60,189.20 C303.13,187.62 305.67,185.90 308.20,185.90 C311.40,185.90 314.60,188.20 317.80,188.20 C320.33,188.20 322.87,187.01 325.40,186.30 C329.23,185.22 333.07,183.66 336.90,182.50 C342.93,180.67 348.97,179.56 355.00,177.50 C361.37,175.32 367.73,170.95 374.10,168.90 C380.47,166.85 386.83,165.63 393.20,164.10 C400.20,162.42 407.20,159.30 414.20,159.30 C419.93,159.30 425.67,163.50 431.40,166.00 C437.47,168.64 443.53,171.98 449.60,175.00 C455.97,178.17 462.33,182.66 468.70,184.60 C474.43,186.35 480.17,186.92 485.90,188.40 C491.63,189.88 497.37,193.70 503.10,193.70 C503.73,193.70 504.37,193.65 505.00,193.60 C507.53,193.39 510.07,190.21 512.60,188.50 C515.07,186.84 517.53,183.50 520.00,183.50 C525.03,183.50 530.07,184.00 535.10,184.00 C540.10,184.00 545.10,180.54 550.10,179.00 C554.13,177.75 558.17,175.50 562.20,175.50 C566.47,175.50 570.73,178.00 575.00,178.00 C579.27,178.00 583.53,177.00 587.80,177.00 C597.67,177.00 607.53,180.73 617.40,182.60" fill="none" stroke="#8B008B" stroke-width="2" stroke-linejoin="round" stroke-linecap="round" />
<line x1="67" y1="383.5" x2="617" y2="383.5" stroke="#FF00FF" stroke-width="2"/>
<polyline points="68.0,355.4 69.5,356.1 71.0,356.0 72.5,356.0 74.0,357.1 75.5,356.5 77.0,357.1 78.5,357.6 80.0,357.6 81.6,357.4 83.2,357.8 84.8,358.0 86.4,358.4 88.0,357.7 89.7,358.4 91.3,358.2 92.9,358.4 94.5,359.1 96.1,358.9 97.6,358.8 99.2,359.0 100.7,359.0 102.3,358.3 103.8,358.4 105.4,358.1 106.9,358.0 108.5,358.1 110.0,357.7 111.6,357.6 113.1,357.4 114.7,357.9 116.2,357.4 117.8,357.5 119.4,357.3 121.0,356.3 122.6,356.5 124.2,356.7 125.8,356.4 127.4,355.4 129.0,355.1 130.6,355.3 132.2,354.7 133.7,355.0 135.3,354.8 136.8,355.6 138.4,355.8 139.9,356.0 141.5,355.2 143.0,355.9 144.6,355.9 146.1,355.3 147.7,356.3 149.2,356.4 150.8,355.6 152.3,356.5 153.9,356.0 155.5,356.2 157.1,356.9 158.7,356.9 160.3,356.2 161.9,356.6 163.5,356.9 165.1,356.8 166.7,356.7 168.3,357.0 169.8,357.2 171.3,356.1 172.8,356.5 174.3,356.1 175.8,355.4 177.3,355.5 178.8,355.6 180.3,355.2 181.9,354.6 183.5,355.5 185.1,355.2 186.7,355.3 188.4,354.1 190.0,354.2 191.6,353.8 193.2,354.6 194.8,353.8 196.4,353.6 197.9,353.6 199.4,353.9 200.9,353.5 202.4,352.5 203.9,352.9 205.4,354.3 206.9,354.4 208.4,355.0 209.9,354.3 211.5,354.3 213.0,355.0 214.6,354.7 216.1,354.3 217.7,355.3 219.2,355.0 220.8,355.2 222.3,354.3 223.9,355.2 225.4,354.3 227.0,355.2 228.5,354.7 230.0,354.7 231.5,355.0 233.0,355.5 234.5,354.8 236.0,354.7 237.5,355.3 239.0,355.0 240.5,354.9 242.0,355.1 243.5,355.0 245.0,355.3 246.5,355.5 248.0,355.5 249.5,356.2 251.0,355.7 252.5,356.0 254.0,355.5 255.5,355.6 257.0,355.0 258.5,355.2 260.0,354.8 261.5,355.5 263.0,355.2 264.6,354.6 266.1,354.8 267.6,355.3 269.1,354.2 270.6,354.9 272.1,354.3 273.6,354.2 275.1,354.5 276.6,353.9 278.1,353.9 279.7,353.9 281.2,354.1 282.8,353.2 284.3,353.6 285.9,353.3 287.4,353.1 289.0,352.7 290.5,352.4 292.1,351.9 293.6,351.9 295.2,351.6 296.7,352.3 298.2,352.5 299.7,353.2 301.2,353.9 302.7,355.6 304.2,355.7 305.7,355.5 307.2,355.1 308.7,355.2 310.2,355.3 311.7,355.6 313.2,355.3 314.7,355.7 316.2,355.5 317.7,356.4 319.2,356.5 320.7,356.1 322.3,355.7 323.9,356.5 325.5,355.7 327.1,355.7 328.7,355.3 330.4,355.7 332.0,355.8 333.6,355.8 335.2,355.4 336.8,355.8 338.4,355.1 340.0,355.4 341.6,355.2 343.1,355.6 344.7,355.1 346.2,355.1 347.8,355.4 349.4,355.3 350.9,355.7 352.5,355.6 354.1,355.9 355.6,355.8 357.2,355.8 358.8,356.0 360.3,355.4 361.9,355.3 363.4,356.1 365.0,355.1 366.5,355.9 368.0,355.9 369.5,355.3 371.0,356.3 372.6,356.5 374.1,356.3 375.6,356.5 377.1,356.7 378.6,356.0 380.1,356.5 381.6,356.6 383.1,357.1 384.6,357.2 386.1,357.3 387.6,357.1 389.2,357.6 390.7,357.4 392.2,357.5 393.7,357.1 395.2,356.9 396.7,357.0 398.3,357.2 399.8,356.8 401.3,357.6 402.8,357.2 404.4,357.2 405.9,357.1 407.4,357.1 408.9,356.8 410.5,356.2 412.0,357.1 413.5,356.9 415.1,356.6 416.6,356.5 418.1,356.6 419.6,355.8 421.2,356.6 422.7,355.9 424.3,355.9 425.8,356.4 427.4,357.2 429.0,356.9 430.6,357.8 432.1,358.3 433.7,358.0 435.3,358.1 436.9,358.5 438.4,359.0 440.0,359.3 441.6,359.6 443.2,360.0 444.8,359.8 446.4,360.3 447.9,360.8 449.5,361.8 451.1,361.7 452.7,362.5 454.3,362.2 455.9,362.7 457.5,363.4 459.0,364.3 460.6,364.8 462.2,365.2 463.8,365.1 465.4,365.8 467.0,365.8 468.5,365.9 470.1,365.6 471.6,366.6 473.2,365.8 474.8,366.9 476.3,366.9 477.9,365.9 479.4,366.5 481.0,366.6" fill="none" stroke="#0000FF" stroke-width="2" stroke-linejoin="round" stroke-linecap="round" /><polyline points="480.0,366.8 481.5,367.2 483.1,366.7 484.6,366.7 486.2,366.8 487.7,367.9 489.2,367.2 490.8,367.8 492.3,367.5 493.9,368.1 495.4,368.8 496.9,367.8 498.4,368.5 500.0,368.0 501.5,368.4 503.0,368.1 504.6,367.5 506.1,368.2 507.6,367.6 509.2,367.2 510.8,367.3 512.3,368.1 513.9,368.2 515.5,368.2 517.1,368.2 518.7,368.6 520.3,368.8 521.8,369.6 523.4,368.7 525.0,369.8 526.6,370.1 528.2,369.4 529.8,370.5 531.4,370.4 533.0,370.8 534.7,370.2 536.3,370.5 537.9,370.7 539.5,371.6 541.1,371.2 542.7,371.1 544.3,371.3 545.8,371.2 547.4,370.9 549.0,371.1 550.6,372.0 552.1,371.4 553.7,372.3 555.3,371.5 556.9,371.6 558.4,371.9 560.0,371.6 561.6,371.9 563.1,372.7 564.7,372.7 566.2,372.7 567.8,372.5 569.4,373.0 570.9,373.1 572.5,372.7 574.1,373.0 575.6,372.2 577.2,373.1 578.7,372.9 580.3,373.3 581.9,373.1 583.6,372.6 585.2,372.3 586.8,373.3 588.5,372.3 590.1,372.6 591.7,372.4 593.4,372.3 595.0,372.8 596.7,373.2 598.3,372.5 600.0,373.2 601.7,372.9 603.3,373.4 605.0,373.4 606.5,373.1 608.0,373.0 609.5,373.1 611.0,373.9 612.5,373.4 614.0,373.0 615.5,373.8 617.0,373.3" fill="none" stroke="#FF00FF" stroke-width="2" stroke-linejoin="round" stroke-linecap="round" /><polyline points="213.8,293.9 215.5,286.4 220.2,284.5 284.3,284.8 315.8,285.2 323.0,283.5 380.0,281.2 475.0,281.5 525.0,280.6 617.6,279.9" fill="none" stroke="#CCBB00" stroke-width="2" stroke-linejoin="round" stroke-linecap="round" /><polyline points="67.0,315.1 140.0,316.3 211.1,316.8 212.2,319.5" fill="none" stroke="#FF0000" stroke-width="2" stroke-linejoin="round" stroke-linecap="round" /><polyline points="226.0,310.3 228.4,316.1 237.7,316.7 238.9,306.2" fill="none" stroke="#FF0000" stroke-width="2" stroke-linejoin="round" stroke-linecap="round" /><polyline points="248.8,305.0 250.5,316.1 263.4,316.7 264.6,296.9" fill="none" stroke="#FF0000" stroke-width="2" stroke-linejoin="round" stroke-linecap="round" /><polyline points="270.4,313.2 272.0,315.0 273.9,298.0 275.7,315.0 278.6,315.0" fill="none" stroke="#FF0000" stroke-width="2" stroke-linejoin="round" stroke-linecap="round" /><polyline points="213.8,291.6 214.9,285.2 216.7,282.8 221.4,282.3 223.7,284.0 225.4,290.4" fill="none" stroke="#00EE00" stroke-width="2" stroke-linejoin="round" stroke-linecap="round" /><polyline points="238.9,306.2 240.0,286.4 241.2,282.3 244.7,281.7 246.5,284.0 248.2,303.9" fill="none" stroke="#00EE00" stroke-width="2" stroke-linejoin="round" stroke-linecap="round" /><polyline points="264.6,296.9 266.3,287.5 268.1,284.0 269.8,291.0" fill="none" stroke="#00EE00" stroke-width="2" stroke-linejoin="round" stroke-linecap="round" /><polyline points="279.2,291.0 280.9,285.2 285.0,282.8 290.0,282.0 337.3,280.4 380.0,278.8 440.0,278.5 480.0,280.0 525.0,277.9 561.7,276.5 564.5,278.3 617.6,277.5" fill="none" stroke="#00EE00" stroke-width="2" stroke-linejoin="round" stroke-linecap="round" />
<line x1="67.5" y1="31" x2="67.5" y2="387" stroke="#1F1F1F" stroke-width="1" opacity="0.65"/>
<line x1="617.5" y1="31" x2="617.5" y2="387" stroke="#1F1F1F" stroke-width="1" opacity="0.65"/>
<line x1="63" y1="383.5" x2="618" y2="383.5" stroke="#1F1F1F" stroke-width="1" opacity="0.6"/>
<polygon points="64.5,31 70.5,31 67.5,26" fill="#801F1F"/>
<polygon points="614.5,31 620.5,31 617.5,26" fill="#801F1F"/>
<polygon points="618.5,380.5 618.5,386.5 624.5,383.5" fill="#801F1F"/>
<text x="99" y="20.8" font-size="14.1" textLength="504" lengthAdjust="spacingAndGlyphs">Temperaturverlauf und Fuellstand am: 16.11.2019, Stand 23:45Uhr</text><text x="60.6" y="387.0" font-size="12.1" text-anchor="end" textLength="6" lengthAdjust="spacingAndGlyphs">0</text><text x="654.6" y="387.0" font-size="12.1" text-anchor="end" textLength="6" lengthAdjust="spacingAndGlyphs">0</text><text x="60.6" y="353.0" font-size="12.1" text-anchor="end" textLength="12" lengthAdjust="spacingAndGlyphs">10</text><text x="654.6" y="353.0" font-size="12.1" text-anchor="end" textLength="12" lengthAdjust="spacingAndGlyphs">10</text><text x="60.6" y="319.0" font-size="12.1" text-anchor="end" textLength="12" lengthAdjust="spacingAndGlyphs">20</text><text x="654.6" y="319.0" font-size="12.1" text-anchor="end" textLength="12" lengthAdjust="spacingAndGlyphs">20</text><text x="60.6" y="285.0" font-size="12.1" text-anchor="end" textLength="12" lengthAdjust="spacingAndGlyphs">30</text><text x="654.6" y="285.0" font-size="12.1" text-anchor="end" textLength="12" lengthAdjust="spacingAndGlyphs">30</text><text x="60.6" y="251.0" font-size="12.1" text-anchor="end" textLength="12" lengthAdjust="spacingAndGlyphs">40</text><text x="654.6" y="251.0" font-size="12.1" text-anchor="end" textLength="12" lengthAdjust="spacingAndGlyphs">40</text><text x="60.6" y="217.0" font-size="12.1" text-anchor="end" textLength="12" lengthAdjust="spacingAndGlyphs">50</text><text x="654.6" y="217.0" font-size="12.1" text-anchor="end" textLength="12" lengthAdjust="spacingAndGlyphs">50</text><text x="60.6" y="183.0" font-size="12.1" text-anchor="end" textLength="12" lengthAdjust="spacingAndGlyphs">60</text><text x="654.6" y="183.0" font-size="12.1" text-anchor="end" textLength="12" lengthAdjust="spacingAndGlyphs">60</text><text x="60.6" y="149.0" font-size="12.1" text-anchor="end" textLength="12" lengthAdjust="spacingAndGlyphs">70</text><text x="654.6" y="149.0" font-size="12.1" text-anchor="end" textLength="12" lengthAdjust="spacingAndGlyphs">70</text><text x="60.6" y="115.0" font-size="12.1" text-anchor="end" textLength="12" lengthAdjust="spacingAndGlyphs">80</text><text x="654.6" y="115.0" font-size="12.1" text-anchor="end" textLength="12" lengthAdjust="spacingAndGlyphs">80</text><text x="60.6" y="81.0" font-size="12.1" text-anchor="end" textLength="12" lengthAdjust="spacingAndGlyphs">90</text><text x="654.6" y="81.0" font-size="12.1" text-anchor="end" textLength="12" lengthAdjust="spacingAndGlyphs">90</text><text x="60.6" y="47.0" font-size="12.1" text-anchor="end" textLength="18" lengthAdjust="spacingAndGlyphs">100</text><text x="654.6" y="47.0" font-size="12.1" text-anchor="end" textLength="18" lengthAdjust="spacingAndGlyphs">100</text><text x="73.0" y="397.6" font-size="11.3" text-anchor="middle" textLength="54" lengthAdjust="spacingAndGlyphs">Sat 00:00</text><text x="210.5" y="397.6" font-size="11.3" text-anchor="middle" textLength="54" lengthAdjust="spacingAndGlyphs">Sat 06:00</text><text x="348.0" y="397.6" font-size="11.3" text-anchor="middle" textLength="54" lengthAdjust="spacingAndGlyphs">Sat 12:00</text><text x="485.5" y="397.6" font-size="11.3" text-anchor="middle" textLength="54" lengthAdjust="spacingAndGlyphs">Sat 18:00</text><text x="0" y="0" font-size="12" text-anchor="middle" transform="translate(18.4,207.3) rotate(-90)">C</text><text x="0" y="0" font-size="8.3" fill="#B5B5B5" style="fill:#B5B5B5" transform="translate(685.5,7) rotate(90)">RRDTOOL / TOBI OETIKER</text><rect x="15.5" y="406.5" width="10" height="10" fill="none" stroke="#FFFFFF" stroke-opacity="0.6" stroke-width="1"/><rect x="16.5" y="407.5" width="8" height="8" fill="#FF0000" stroke="#000" stroke-width="1"/><text x="30.3" y="415.3" font-size="12.1" textLength="63" lengthAdjust="spacingAndGlyphs">VL Kessel</text><rect x="113.5" y="406.5" width="10" height="10" fill="none" stroke="#FFFFFF" stroke-opacity="0.6" stroke-width="1"/><rect x="114.5" y="407.5" width="8" height="8" fill="#000080" stroke="#000" stroke-width="1"/><text x="128.3" y="415.3" font-size="12.1" textLength="63" lengthAdjust="spacingAndGlyphs">RL Kessel</text><rect x="218.5" y="406.5" width="10" height="10" fill="none" stroke="#FFFFFF" stroke-opacity="0.6" stroke-width="1"/><rect x="219.5" y="407.5" width="8" height="8" fill="#FF88AA" stroke="#000" stroke-width="1"/><text x="233.3" y="415.3" font-size="12.1" textLength="70" lengthAdjust="spacingAndGlyphs">VL Heizung</text><rect x="337.5" y="406.5" width="10" height="10" fill="none" stroke="#FFFFFF" stroke-opacity="0.6" stroke-width="1"/><rect x="338.5" y="407.5" width="8" height="8" fill="#0000FF" stroke="#000" stroke-width="1"/><text x="352.3" y="415.3" font-size="12.1" textLength="70" lengthAdjust="spacingAndGlyphs">RL Heizung</text><rect x="470.5" y="406.5" width="10" height="10" fill="none" stroke="#FFFFFF" stroke-opacity="0.6" stroke-width="1"/><rect x="471.5" y="407.5" width="8" height="8" fill="#A00000" stroke="#000" stroke-width="1"/><text x="485.3" y="415.3" font-size="12.1" textLength="77" lengthAdjust="spacingAndGlyphs">Puffer Oben</text><rect x="582.5" y="406.5" width="10" height="10" fill="none" stroke="#FFFFFF" stroke-opacity="0.6" stroke-width="1"/><rect x="583.5" y="407.5" width="8" height="8" fill="#8B008B" stroke="#000" stroke-width="1"/><text x="597.3" y="415.3" font-size="12.1" textLength="84" lengthAdjust="spacingAndGlyphs">Puffer Mitte</text><rect x="15.5" y="420.5" width="10" height="10" fill="none" stroke="#FFFFFF" stroke-opacity="0.6" stroke-width="1"/><rect x="16.5" y="421.5" width="8" height="8" fill="#FF00FF" stroke="#000" stroke-width="1"/><text x="30.3" y="429.3" font-size="12.1" textLength="77" lengthAdjust="spacingAndGlyphs">Luftfeuchte</text><rect x="123.5" y="420.5" width="10" height="10" fill="none" stroke="#FFFFFF" stroke-opacity="0.6" stroke-width="1"/><rect x="124.5" y="421.5" width="8" height="8" fill="#0000FF" stroke="#000" stroke-width="1"/><text x="138.3" y="429.3" font-size="12.1" textLength="91" lengthAdjust="spacingAndGlyphs">AT&gt;5C, FS AUS</text><rect x="245.5" y="420.5" width="10" height="10" fill="none" stroke="#FFFFFF" stroke-opacity="0.6" stroke-width="1"/><rect x="246.5" y="421.5" width="8" height="8" fill="#FF00FF" stroke="#000" stroke-width="1"/><text x="260.3" y="429.3" font-size="12.1" textLength="91" lengthAdjust="spacingAndGlyphs">AT&lt;2C, FS EIN</text><rect x="367.5" y="420.5" width="10" height="10" fill="none" stroke="#FFFFFF" stroke-opacity="0.6" stroke-width="1"/><rect x="368.5" y="421.5" width="8" height="8" fill="#808080" stroke="#000" stroke-width="1"/><text x="382.3" y="429.3" font-size="12.1" textLength="84" lengthAdjust="spacingAndGlyphs">Kessel-P AUS</text><rect x="482.5" y="420.5" width="10" height="10" fill="none" stroke="#FFFFFF" stroke-opacity="0.6" stroke-width="1"/><rect x="483.5" y="421.5" width="8" height="8" fill="#CCCC00" stroke="#000" stroke-width="1"/><text x="497.3" y="429.3" font-size="12.1" textLength="84" lengthAdjust="spacingAndGlyphs">Kessel-P EIN</text><rect x="597.5" y="420.5" width="10" height="10" fill="none" stroke="#FFFFFF" stroke-opacity="0.6" stroke-width="1"/><rect x="598.5" y="421.5" width="8" height="8" fill="#FF0000" stroke="#000" stroke-width="1"/><text x="612.3" y="429.3" font-size="12.1" textLength="70" lengthAdjust="spacingAndGlyphs">Heiz-P AUS</text><rect x="15.5" y="434.5" width="10" height="10" fill="none" stroke="#FFFFFF" stroke-opacity="0.6" stroke-width="1"/><rect x="16.5" y="435.5" width="8" height="8" fill="#00EE00" stroke="#000" stroke-width="1"/><text x="30.3" y="443.3" font-size="12.1" textLength="70" lengthAdjust="spacingAndGlyphs">Heiz-P EIN</text><text x="120.6" y="443.3" font-size="12.1" xml:space="preserve" textLength="84" lengthAdjust="spacingAndGlyphs">akt.rH: 0.00</text><text x="224.4" y="443.3" font-size="12.1" xml:space="preserve" textLength="98" lengthAdjust="spacingAndGlyphs">akt.AT: 2.84 C</text><text x="341.5" y="443.3" font-size="12.1" xml:space="preserve" textLength="126" lengthAdjust="spacingAndGlyphs">min/maxAT24h: 2.69</text><text x="472.3" y="443.3" font-size="12.1" xml:space="preserve" textLength="42" lengthAdjust="spacingAndGlyphs">/ 9.31</text><text x="534.3" y="443.3" font-size="12.1" xml:space="preserve" textLength="140" lengthAdjust="spacingAndGlyphs">akt.Fuellstand:   33</text><text x="16.3" y="457.3" font-size="12.1" xml:space="preserve" textLength="112" lengthAdjust="spacingAndGlyphs">Aquarium: -nan C</text><text x="144.7" y="457.3" font-size="12.1" xml:space="preserve" textLength="133" lengthAdjust="spacingAndGlyphs">min/max: -nan/ -nan</text>
</svg></body></html>
